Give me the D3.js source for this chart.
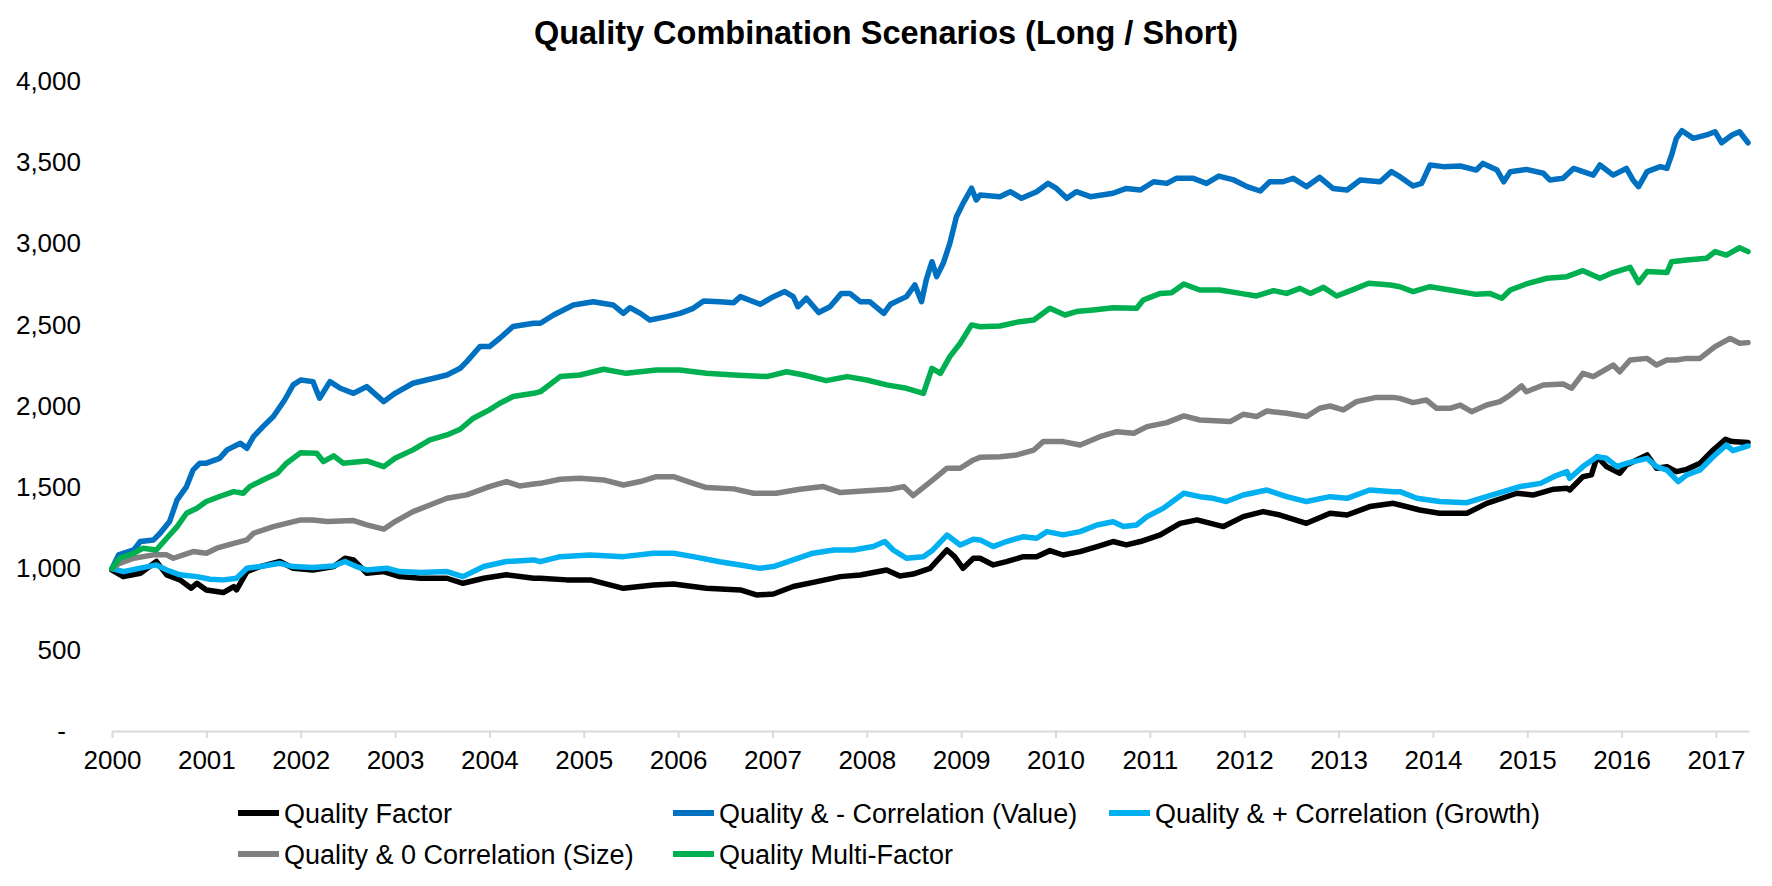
<!DOCTYPE html>
<html>
<head>
<meta charset="utf-8">
<script src="https://cdn.jsdelivr.net/npm/d3@7"></script>
<style>
  html, body { margin: 0; padding: 0; background: #ffffff; }
  svg { display: block; font-family: "Liberation Sans", Arial, sans-serif; }
</style>
</head>
<body>
<svg id="chart" width="1772" height="886"></svg>
<script>
// ---------- DATA ----------
const title = "Quality Combination Scenarios (Long / Short)";
const seriesNames = [
  "Quality Factor",
  "Quality & - Correlation (Value)",
  "Quality & + Correlation (Growth)",
  "Quality & 0 Correlation (Size)",
  "Quality Multi-Factor"
];
const seriesColors = ["#000000", "#0070C0", "#00B0F0", "#808080", "#00B050"];
const yearTicks = [2000,2001,2002,2003,2004,2005,2006,2007,2008,2009,2010,2011,2012,2013,2014,2015,2016,2017];
const valueTicks = [0,500,1000,1500,2000,2500,3000,3500,4000];

// [decimal year, index value]
const qualityFactor = [
  [2000,990],[2000.12,950],[2000.30,971],[2000.47,1043],[2000.58,961],[2000.72,930],[2000.84,879],[2000.90,909],[2001.00,868],[2001.18,852],[2001.29,889],[2001.32,868],[2001.43,981],[2001.57,1012],[2001.78,1043],[2001.92,1002],[2002.13,991],[2002.35,1012],[2002.47,1063],[2002.56,1053],[2002.70,971],[2002.88,981],[2003.05,950],[2003.27,940],[2003.55,940],[2003.72,909],[2003.94,940],[2004.18,961],[2004.47,940],
  [2004.54,940],[2004.82,930],[2005.07,930],[2005.42,878],[2005.74,899],[2005.95,905],[2006.30,878],[2006.66,868],[2006.83,837],[2007.01,843],[2007.22,889],[2007.47,919],[2007.72,950],[2007.93,960],[2008.07,975],[2008.21,991],[2008.35,954],[2008.49,966],[2008.67,1001],[2008.85,1114],[2008.93,1073],[2009.02,1001],[2009.13,1063],
  [2009.20,1063],[2009.34,1022],[2009.48,1042],[2009.66,1073],[2009.80,1073],[2009.94,1110],[2010.08,1083],[2010.26,1104],[2010.44,1135],[2010.61,1166],[2010.75,1145],[2010.90,1166],[2011.11,1207],[2011.32,1278],[2011.50,1299],[2011.78,1258],[2011.99,1319],[2012.20,1350],[2012.38,1329],[2012.66,1278],[2012.91,1340],[2013.09,1329],[2013.33,1381],[2013.58,1401],
  [2013.65,1391],[2013.86,1360],[2014.07,1340],[2014.36,1340],[2014.57,1401],[2014.89,1463],[2015.06,1452],[2015.28,1488],[2015.42,1494],[2015.45,1483],[2015.59,1565],[2015.68,1576],[2015.74,1688],[2015.84,1627],[2015.98,1586],[2016.05,1637],[2016.27,1699],[2016.37,1617],[2016.48,1627],[2016.58,1596],[2016.69,1610],[2016.83,1647],[2016.97,1729],[2017.10,1795],[2017.17,1781],[2017.34,1775]
];
const valueCorr = [
  [2000,1000],[2000.07,1084],[2000.23,1114],[2000.30,1166],[2000.44,1176],[2000.51,1217],[2000.61,1289],[2000.69,1422],[2000.79,1504],[2000.86,1607],[2000.93,1648],[2001.00,1648],[2001.14,1678],[2001.22,1730],[2001.36,1771],[2001.43,1740],[2001.50,1812],[2001.60,1873],[2001.71,1935],[2001.83,2037],[2001.92,2130],[2002.00,2160],[2002.13,2150],[2002.20,2048],[2002.31,2150],[2002.42,2109],[2002.56,2078],[2002.70,2119],[2002.88,2027],[2003.00,2078],[2003.19,2140],[2003.41,2171],[2003.55,2191],[2003.69,2232],[2003.76,2273],[2003.90,2366],[2004.00,2366],[2004.11,2417],[2004.25,2489],[2004.47,2509],
  [2004.54,2509],[2004.68,2560],[2004.89,2622],[2005.10,2642],[2005.31,2622],[2005.42,2570],[2005.49,2605],[2005.60,2570],[2005.70,2529],[2005.88,2550],[2006.02,2570],[2006.16,2601],[2006.27,2646],[2006.44,2642],[2006.59,2636],[2006.66,2673],[2006.87,2626],[2007.01,2673],[2007.13,2704],[2007.22,2673],[2007.27,2611],[2007.36,2663],[2007.49,2575],[2007.61,2611],[2007.73,2693],[2007.82,2693],[2007.93,2642],[2008.03,2642],[2008.18,2570],[2008.25,2626],[2008.42,2673],[2008.51,2745],[2008.58,2642],[2008.63,2776],[2008.69,2888],[2008.74,2796],[2008.81,2878],[2008.88,3001],[2008.95,3165],[2009.02,3247],[2009.11,3340],[2009.16,3268],
  [2009.20,3298],[2009.41,3288],[2009.52,3319],[2009.64,3278],[2009.80,3319],[2009.92,3370],[2010.01,3339],[2010.12,3278],[2010.22,3319],[2010.37,3288],[2010.61,3309],[2010.75,3339],[2010.90,3329],[2011.04,3380],[2011.18,3370],[2011.28,3401],[2011.46,3401],[2011.60,3370],[2011.73,3415],[2011.89,3391],[2012.03,3350],[2012.17,3323],[2012.27,3380],[2012.41,3380],[2012.52,3401],[2012.66,3350],[2012.80,3407],[2012.94,3339],[2013.09,3329],[2013.23,3391],[2013.44,3380],[2013.56,3442],
  [2013.65,3411],[2013.79,3354],[2013.88,3370],[2013.97,3483],[2014.11,3473],[2014.29,3477],[2014.46,3452],[2014.53,3493],[2014.68,3452],[2014.75,3380],[2014.82,3442],[2014.99,3456],[2015.17,3432],[2015.24,3391],[2015.38,3401],[2015.49,3462],[2015.70,3421],[2015.77,3483],[2015.91,3421],[2016.05,3462],[2016.12,3391],[2016.18,3350],[2016.27,3442],[2016.41,3473],[2016.48,3462],[2016.53,3545],[2016.58,3647],[2016.64,3694],[2016.76,3647],[2016.90,3668],[2016.99,3688],[2017.06,3620],[2017.17,3668],[2017.25,3688],[2017.34,3620]
];
const growthCorr = [
  [2000,1000],[2000.12,981],[2000.30,1002],[2000.47,1022],[2000.58,991],[2000.72,961],[2000.90,950],[2001.04,934],[2001.18,930],[2001.32,940],[2001.43,1002],[2001.57,1012],[2001.78,1032],[2001.92,1012],[2002.13,1006],[2002.35,1016],[2002.47,1043],[2002.59,1012],[2002.70,991],[2002.91,1002],[2003.05,981],[2003.27,975],[2003.55,981],[2003.72,950],[2003.94,1012],[2004.18,1043],[2004.47,1053],
  [2004.54,1042],[2004.75,1073],[2005.07,1083],[2005.42,1073],[2005.74,1094],[2005.95,1094],[2006.16,1073],[2006.44,1042],[2006.66,1022],[2006.87,1001],[2007.01,1012],[2007.22,1053],[2007.43,1094],[2007.65,1114],[2007.86,1114],[2008.07,1135],[2008.19,1166],[2008.28,1114],[2008.42,1063],[2008.60,1073],[2008.70,1114],[2008.85,1206],[2008.99,1145],[2009.13,1180],
  [2009.20,1176],[2009.34,1135],[2009.48,1166],[2009.66,1196],[2009.80,1186],[2009.91,1227],[2010.08,1207],[2010.26,1227],[2010.44,1268],[2010.61,1288],[2010.72,1258],[2010.86,1268],[2010.97,1319],[2011.14,1370],[2011.36,1463],[2011.53,1442],[2011.67,1432],[2011.81,1412],[2011.99,1452],[2012.24,1483],[2012.45,1442],[2012.66,1412],[2012.91,1442],[2013.09,1432],[2013.33,1483],[2013.58,1473],
  [2013.65,1473],[2013.83,1432],[2014.07,1412],[2014.36,1405],[2014.57,1442],[2014.92,1504],[2015.14,1524],[2015.28,1565],[2015.42,1596],[2015.45,1555],[2015.59,1627],[2015.74,1688],[2015.84,1678],[2015.95,1627],[2016.05,1647],[2016.27,1678],[2016.37,1627],[2016.48,1606],[2016.60,1535],[2016.69,1576],[2016.83,1606],[2016.97,1688],[2017.11,1760],[2017.18,1725],[2017.34,1754]
];
const sizeCorr = [
  [2000,1000],[2000.08,1032],[2000.23,1063],[2000.44,1084],[2000.58,1084],[2000.65,1063],[2000.86,1104],[2001.00,1094],[2001.11,1125],[2001.29,1155],[2001.43,1176],[2001.50,1217],[2001.71,1258],[2001.85,1278],[2002.00,1299],[2002.13,1299],[2002.28,1289],[2002.56,1295],[2002.70,1268],[2002.88,1242],[2003.00,1289],[2003.19,1350],[2003.37,1391],[2003.55,1432],[2003.76,1453],[2004.00,1504],[2004.18,1535],[2004.32,1508],[2004.47,1520],
  [2004.54,1524],[2004.75,1549],[2004.96,1555],[2005.21,1545],[2005.42,1514],[2005.60,1535],[2005.77,1565],[2005.95,1565],[2006.16,1524],[2006.30,1498],[2006.59,1490],[2006.80,1463],[2007.04,1463],[2007.29,1488],[2007.54,1504],[2007.72,1467],[2008.00,1479],[2008.25,1488],[2008.39,1504],[2008.49,1449],[2008.70,1545],[2008.85,1617],[2008.99,1617],[2009.13,1668],
  [2009.20,1684],[2009.41,1688],[2009.59,1699],[2009.77,1729],[2009.87,1781],[2010.08,1781],[2010.26,1760],[2010.47,1811],[2010.65,1842],[2010.83,1832],[2010.97,1873],[2011.18,1898],[2011.36,1939],[2011.53,1914],[2011.85,1904],[2011.99,1949],[2012.13,1935],[2012.24,1969],[2012.45,1955],[2012.66,1935],[2012.80,1986],[2012.91,2000],[2013.05,1976],[2013.19,2027],[2013.40,2053],[2013.58,2053],
  [2013.65,2047],[2013.79,2021],[2013.93,2037],[2014.04,1986],[2014.18,1986],[2014.29,2006],[2014.41,1965],[2014.57,2006],[2014.71,2027],[2014.82,2068],[2014.94,2123],[2014.99,2088],[2015.17,2129],[2015.38,2135],[2015.47,2109],[2015.59,2201],[2015.70,2181],[2015.91,2252],[2015.98,2211],[2016.09,2283],[2016.27,2293],[2016.37,2252],[2016.48,2283],[2016.58,2283],[2016.69,2293],[2016.83,2293],[2016.99,2365],[2017.15,2416],[2017.25,2386],[2017.34,2390]
];
const multiFactor = [
  [2000,1000],[2000.08,1063],[2000.23,1094],[2000.33,1125],[2000.47,1114],[2000.58,1186],[2000.69,1258],[2000.79,1340],[2000.90,1371],[2001.00,1412],[2001.14,1443],[2001.29,1473],[2001.39,1463],[2001.46,1504],[2001.60,1545],[2001.75,1586],[2001.85,1648],[2002.00,1713],[2002.17,1709],[2002.24,1658],[2002.35,1693],[2002.45,1648],[2002.70,1662],[2002.88,1627],[2003.00,1678],[2003.19,1730],[2003.37,1791],[2003.55,1822],[2003.69,1857],[2003.83,1925],[2004.00,1976],[2004.11,2017],[2004.25,2058],[2004.47,2078],
  [2004.54,2088],[2004.75,2181],[2004.96,2191],[2005.21,2226],[2005.45,2201],[2005.77,2222],[2006.02,2222],[2006.30,2201],[2006.59,2191],[2006.94,2181],[2007.15,2211],[2007.33,2191],[2007.57,2156],[2007.79,2181],[2008.00,2160],[2008.21,2130],[2008.42,2109],[2008.60,2078],[2008.69,2232],[2008.78,2201],[2008.88,2304],[2008.99,2386],[2009.11,2499],
  [2009.20,2488],[2009.41,2492],[2009.62,2519],[2009.77,2529],[2009.94,2601],[2010.10,2560],[2010.22,2581],[2010.40,2591],[2010.61,2605],[2010.86,2601],[2010.93,2652],[2011.11,2693],[2011.23,2697],[2011.36,2751],[2011.53,2714],[2011.74,2714],[2011.96,2693],[2012.13,2677],[2012.31,2710],[2012.45,2693],[2012.59,2724],[2012.70,2693],[2012.84,2730],[2012.98,2677],[2013.16,2718],[2013.32,2755],[2013.55,2745],
  [2013.65,2734],[2013.79,2704],[2013.97,2734],[2014.18,2714],[2014.46,2687],[2014.60,2693],[2014.73,2663],[2014.82,2714],[2014.99,2751],[2015.21,2786],[2015.42,2796],[2015.59,2833],[2015.77,2786],[2015.91,2821],[2016.09,2853],[2016.18,2759],[2016.27,2827],[2016.48,2821],[2016.53,2888],[2016.69,2898],[2016.90,2909],[2016.99,2950],[2017.11,2929],[2017.25,2974],[2017.34,2950]
];
const seriesData = [qualityFactor, valueCorr, growthCorr, sizeCorr, multiFactor];

// ---------- CHART ----------
const svg = d3.select("#chart");
const W = 1772, H = 886;
const plot = { left: 112, right: 1749, top: 81, bottom: 731 };

const x = d3.scaleLinear().domain([2000, 2017.35]).range([plot.left, plot.right]);
const y = d3.scaleLinear().domain([0, 4000]).range([plot.bottom, plot.top]);

svg.append("rect").attr("width", W).attr("height", H).attr("fill", "#ffffff");

// title
svg.append("text")
  .attr("x", 886).attr("y", 44)
  .attr("text-anchor", "middle")
  .attr("font-size", 32.5).attr("font-weight", "bold").attr("fill", "#000")
  .text(title);

// y axis (labels only)
const yAxis = d3.axisLeft(y)
  .tickValues(valueTicks)
  .tickSize(0)
  .tickPadding(0)
  .tickFormat(d => d === 0 ? "-" : d3.format(",")(d));
const gy = svg.append("g").attr("transform", "translate(81,0)").call(yAxis);
gy.select(".domain").remove();
gy.selectAll("text")
  .attr("font-size", 26).attr("fill", "#000")
  .attr("font-family", "'Liberation Sans', Arial, sans-serif")
  .attr("dx", d => d === 0 ? -15 : 0);

// x axis
const xAxis = d3.axisBottom(x)
  .tickValues(yearTicks)
  .tickSize(7)
  .tickSizeOuter(0)
  .tickPadding(13)
  .tickFormat(d3.format("d"));
const gx = svg.append("g").attr("transform", `translate(0,${plot.bottom})`).call(xAxis);
gx.select(".domain").attr("stroke", "#d9d9d9").attr("stroke-width", 2);
gx.selectAll(".tick line").attr("stroke", "#d9d9d9").attr("stroke-width", 2);
gx.selectAll("text")
  .attr("font-size", 26).attr("fill", "#000")
  .attr("font-family", "'Liberation Sans', Arial, sans-serif");

// lines
const line = d3.line().x(d => x(d[0])).y(d => y(d[1]));
const gl = svg.append("g");
seriesData.forEach((data, i) => {
  gl.append("path")
    .datum(data)
    .attr("d", line)
    .attr("fill", "none")
    .attr("stroke", seriesColors[i])
    .attr("stroke-width", 5.5)
    .attr("stroke-linejoin", "round")
    .attr("stroke-linecap", "round");
});

// legend
const legendPos = [[238, 813], [673, 813], [1109, 813], [238, 854], [673, 854]];
const lg = svg.append("g");
seriesNames.forEach((name, i) => {
  const [lx, ly] = legendPos[i];
  lg.append("line")
    .attr("x1", lx).attr("x2", lx + 41)
    .attr("y1", ly).attr("y2", ly)
    .attr("stroke", seriesColors[i]).attr("stroke-width", 6);
  lg.append("text")
    .attr("x", lx + 46).attr("y", ly + 9.5)
    .attr("font-size", 27).attr("fill", "#000")
    .text(name);
});
</script>
</body>
</html>
